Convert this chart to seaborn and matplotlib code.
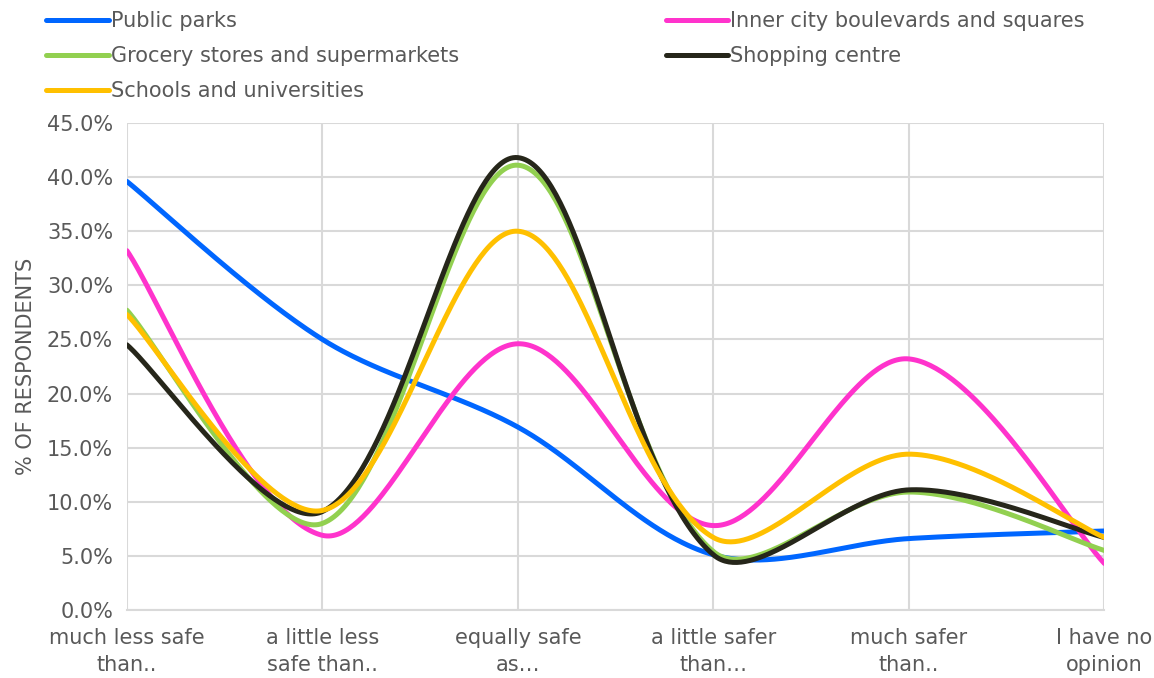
import numpy as np
import pandas as pd
import matplotlib
matplotlib.use("Agg")
import matplotlib.pyplot as plt
from matplotlib.lines import Line2D
import seaborn as sns

# Survey answer categories (x axis)
categories = [
    "much less safe\nthan..",
    "a little less\nsafe than..",
    "equally safe\nas…",
    "a little safer\nthan…",
    "much safer\nthan..",
    "I have no\nopinion",
]

# Share of respondents (%) per place type
public_parks = [39.6, 25.0, 16.9, 5.1, 6.6, 7.3]
inner_city = [33.2, 6.9, 24.6, 7.8, 23.2, 4.3]
grocery = [27.7, 8.0, 41.1, 5.4, 10.9, 5.5]
shopping = [24.5, 9.1, 41.8, 5.1, 11.1, 6.7]
schools = [27.3, 9.2, 35.0, 6.7, 14.4, 6.7]

series_names = [
    "Public parks",
    "Inner city boulevards and squares",
    "Grocery stores and supermarkets",
    "Shopping centre",
    "Schools and universities",
]
series_values = [public_parks, inner_city, grocery, shopping, schools]
colors = ["#0066FF", "#FF33CC", "#92D050", "#26261A", "#FFC000"]

y_ticks = [0, 5, 10, 15, 20, 25, 30, 35, 40, 45]

# Approximate on-screen scale of one x step and one percentage point, used so
# the curve smoothing is computed in display proportions.
X_UNIT = 195.0
Y_UNIT = 10.82


def smooth(values, steps=80):
    """Smoothed line through the points: cubic Bezier segments whose control
    handles follow the neighbour-to-neighbour direction, with handle lengths
    weighted by the adjacent chord lengths (limits overshoot)."""
    p = np.column_stack([np.arange(len(values), dtype=float) * X_UNIT,
                         np.asarray(values, float) * Y_UNIT])
    n = len(p)
    out_h = np.zeros_like(p)
    in_h = np.zeros_like(p)
    for i in range(n):
        prev_p = p[i - 1] if i > 0 else p[i]
        next_p = p[i + 1] if i < n - 1 else p[i]
        tang = (next_p - prev_p) / 6.0
        d_in = np.linalg.norm(p[i] - prev_p)
        d_out = np.linalg.norm(next_p - p[i])
        tot = d_in + d_out
        w_in = 2 * d_in / tot if (i > 0 and i < n - 1) else 1.0
        w_out = 2 * d_out / tot if (i > 0 and i < n - 1) else 1.0
        out_h[i] = p[i] + tang * w_out
        in_h[i] = p[i] - tang * w_in
    segs = []
    for i in range(n - 1):
        p1, p2 = p[i], p[i + 1]
        c1, c2 = out_h[i], in_h[i + 1]
        t = np.linspace(0, 1, steps, endpoint=(i == n - 2))[:, None]
        seg = ((1 - t) ** 3) * p1 + 3 * ((1 - t) ** 2) * t * c1 + 3 * (1 - t) * t ** 2 * c2 + t ** 3 * p2
        segs.append(seg)
    pts = np.vstack(segs)
    return pts[:, 0] / X_UNIT, pts[:, 1] / Y_UNIT


frames = []
for name, vals in zip(series_names, series_values):
    xs, ys = smooth(vals)
    frames.append(pd.DataFrame({"x": xs, "y": ys, "series": name}))
df = pd.concat(frames, ignore_index=True)

sns.set_style("white")
plt.rcParams["font.family"] = ["DejaVu Sans"]

text_color = "#595959"
grid_color = "#D9D9D9"

fig = plt.figure(figsize=(11.54, 6.78), dpi=100)
ax = fig.add_axes([0.110, 0.1003, 0.847, 0.7183])

sns.lineplot(
    data=df, x="x", y="y", hue="series", hue_order=series_names,
    palette=colors, linewidth=3.6, sort=False, estimator=None,
    legend=False, ax=ax,
)

ax.set_xlim(0, len(categories) - 1)
ax.set_ylim(0, 45)
ax.set_yticks(y_ticks)
ax.set_yticklabels([f"{v:.1f}%" for v in y_ticks])
ax.set_xticks(range(len(categories)))
ax.set_xticklabels(categories, linespacing=1.45)
ax.grid(True, color=grid_color, linewidth=1.5)
ax.set_axisbelow(True)
for side in ["top", "right", "left"]:
    ax.spines[side].set_visible(False)
ax.spines["bottom"].set_color(grid_color)
ax.spines["bottom"].set_linewidth(1.5)
ax.tick_params(axis="x", length=7, width=1.5, color=grid_color, labelsize=15,
               labelcolor=text_color, pad=6)
ax.tick_params(axis="y", length=0, labelsize=15, labelcolor=text_color, pad=10)
ax.set_xlabel("")
ax.set_ylabel("% OF RESPONDENTS", fontsize=15, color=text_color, labelpad=8)

handles = [Line2D([0], [0], color=c, linewidth=3.6, solid_capstyle="round") for c in colors]
left_idx = [0, 2, 4]
right_idx = [1, 3]
legend_kw = dict(frameon=False, fontsize=15, handlelength=3.0, handletextpad=0.1,
                 labelspacing=0.72, labelcolor=text_color, borderaxespad=0, borderpad=0)
fig.legend([handles[i] for i in left_idx], [series_names[i] for i in left_idx],
           loc="upper left", bbox_to_anchor=(0.040, 0.984), **legend_kw)
fig.legend([handles[i] for i in right_idx], [series_names[i] for i in right_idx],
           loc="upper left", bbox_to_anchor=(0.577, 0.984), **legend_kw)

fig.savefig("out.png", dpi=100, facecolor="white")
